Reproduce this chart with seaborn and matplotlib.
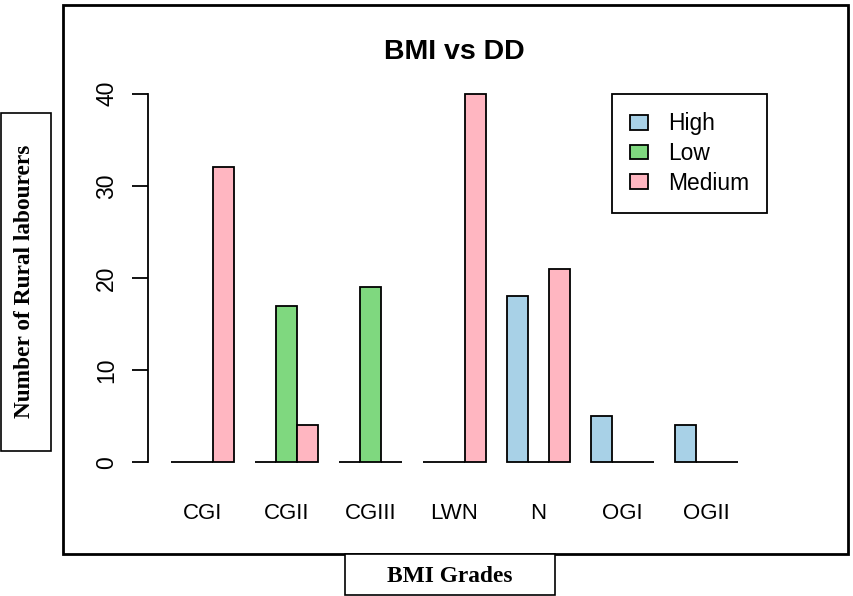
import numpy as np
import pandas as pd
import matplotlib
matplotlib.use("Agg")
import matplotlib.pyplot as plt
from matplotlib.patches import Rectangle
import seaborn as sns

grades = ['CGI', 'CGII', 'CGIII', 'LWN', 'N', 'OGI', 'OGII']
levels = ['High', 'Low', 'Medium']
high = [0, 0, 0, 0, 18, 5, 4]
low = [0, 17, 19, 0, 0, 0, 0]
medium = [32, 4, 0, 40, 21, 0, 0]
colors = {'High': '#A8D1E7', 'Low': '#7FD87F', 'Medium': '#FFB6C1'}

df = pd.DataFrame({
    'grade': grades * 3,
    'level': ['High'] * 7 + ['Low'] * 7 + ['Medium'] * 7,
    'count': high + low + medium,
})

sns.set_style('white')
plt.rcParams['font.family'] = ['Liberation Sans', 'DejaVu Sans']
plt.rcParams['text.color'] = 'black'
plt.rcParams['xtick.color'] = 'black'
plt.rcParams['ytick.color'] = 'black'
plt.rcParams['axes.labelcolor'] = 'black'

W, H = 854, 596
fig = plt.figure(figsize=(W / 100, H / 100), dpi=100)
ax = fig.add_axes([148 / W, 1 - 477 / H, (761 - 148) / W, (477 - 79) / H])

sns.barplot(data=df, x='grade', y='count', hue='level', order=grades, hue_order=levels,
            palette=colors, width=0.75, gap=0, saturation=1, errorbar=None,
            edgecolor='black', linewidth=1.3, ax=ax)

ax.set_xlim(-0.375 - 0.27, 6.375 + 0.27)
ax.set_ylim(-1.6, 41.6)
for s in ['top', 'right', 'bottom']:
    ax.spines[s].set_visible(False)
ax.spines['left'].set_bounds(0, 40)
ax.spines['left'].set_linewidth(1.3)
ax.spines['left'].set_color('black')
ax.set_yticks([0, 10, 20, 30, 40])
ax.tick_params(axis='y', length=11.5, width=1.3, color='black', pad=10, labelsize=16.5,
               labelrotation=90, left=True, labelcolor='black')
for t in ax.get_yticklabels():
    t.set_va('center')
ax.tick_params(axis='x', length=0, pad=19, labelsize=16, labelcolor='black')
ax.set_xlabel('')
ax.set_ylabel('')
ax.set_title('BMI vs DD', fontsize=20.5, fontweight='bold', color='black', pad=0,
             y=(477 - 52) / (477 - 79))
ax.title.set_va('center')

ax.legend(loc='upper left', bbox_to_anchor=(612 / W, 1 - 94 / H), bbox_transform=fig.transFigure,
          fontsize=16.4, frameon=True, fancybox=False, edgecolor='black', framealpha=1,
          borderpad=0.8, handlelength=0.8, handleheight=0.62, handletextpad=0.85,
          labelspacing=0.3, borderaxespad=0)
ax.get_legend().get_frame().set_linewidth(1.3)

# outer box around the plot
fig.add_artist(Rectangle((63 / W, 1 - 554 / H), (848 - 63) / W, (554 - 5) / H,
                         transform=fig.transFigure, fill=False, edgecolor='black', linewidth=2))

# boxed axis labels
fig.add_artist(Rectangle((1 / W, 1 - 451 / H), 50 / W, (451 - 113) / H, transform=fig.transFigure,
                         facecolor='white', edgecolor='black', linewidth=1.2))
fig.text(25 / W, 1 - 281 / H, 'Number of Rural labourers', rotation=90, ha='center', va='center',
         family='Liberation Serif', fontweight='bold', fontsize=16.8, color='black')
fig.add_artist(Rectangle((345 / W, 1 - 595 / H), 210 / W, 41 / H, transform=fig.transFigure,
                         facecolor='white', edgecolor='black', linewidth=1.2))
fig.text(450 / W, 1 - 576 / H, 'BMI Grades', ha='center', va='center',
         family='Liberation Serif', fontweight='bold', fontsize=16.8, color='black')

fig.savefig('out.png', dpi=100)
